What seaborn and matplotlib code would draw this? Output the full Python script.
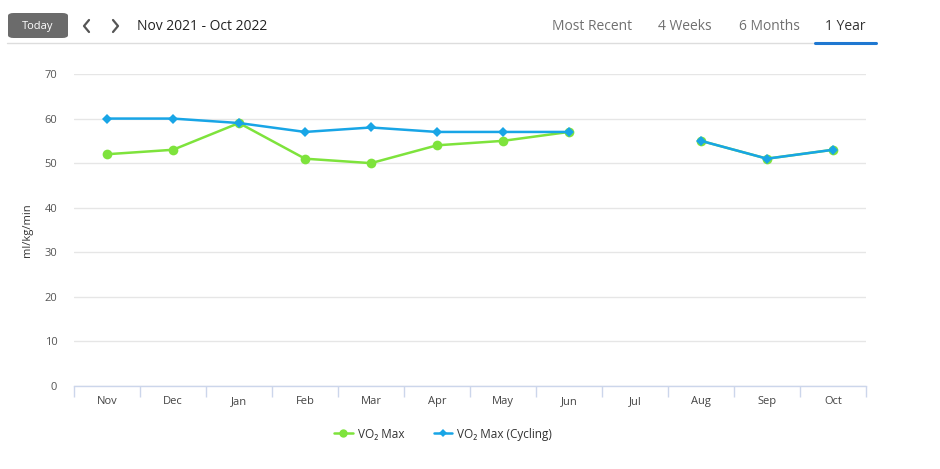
import numpy as np
import pandas as pd
import matplotlib
matplotlib.use("Agg")
import matplotlib.pyplot as plt
from matplotlib.patches import FancyBboxPatch
from matplotlib.lines import Line2D
import seaborn as sns

# data
months = ["Nov", "Dec", "Jan", "Feb", "Mar", "Apr", "May", "Jun", "Jul", "Aug", "Sep", "Oct"]
vo2_max = [52, 53, 59, 51, 50, 54, 55, 57, np.nan, 55, 51, 53]
vo2_cycling = [60, 60, 59, 57, 58, 57, 57, 57, np.nan, 55, 51, 53]
series_names = ["VO\u2082 Max", "VO\u2082 Max (Cycling)"]
y_ticks = [0, 10, 20, 30, 40, 50, 60, 70]
tabs = ["Most Recent", "4 Weeks", "6 Months", "1 Year"]
title = "Nov 2021 - Oct 2022"

GREEN = "#7ee33c"
BLUE = "#18a5e6"

W, H = 940, 469


def fx(px):
    return px / W


def fy(py):
    return 1 - py / H


def to_long(values, name):
    vals = np.asarray(values, dtype=float)
    seg = np.cumsum(np.isnan(vals))
    df = pd.DataFrame({"pos": np.arange(len(vals)), "value": vals,
                       "series": name, "segment": seg})
    return df.dropna()


df = pd.concat([to_long(vo2_max, series_names[0]),
                to_long(vo2_cycling, series_names[1])], ignore_index=True)

sns.set_theme(style="white")
plt.rcParams["font.family"] = ["Open Sans", "DejaVu Sans"]

fig = plt.figure(figsize=(9.4, 4.69), dpi=100)
ax = fig.add_axes([fx(74), fy(386), fx(866) - fx(74), fy(74) - fy(386)])

sns.lineplot(data=df, x="pos", y="value", hue="series", units="segment",
             estimator=None, style="series", markers={series_names[0]: "o", series_names[1]: "D"},
             dashes=False, palette={series_names[0]: GREEN, series_names[1]: BLUE},
             markersize=7, markeredgewidth=0, linewidth=1.8, ax=ax, legend=False)
# diamonds are smaller than the circles in the original
for line in ax.get_lines():
    if line.get_marker() == "D":
        line.set_markersize(5.5)
        line.set_zorder(3)

ax.set_xlim(-0.5, len(months) - 0.5)
ax.set_ylim(0, 70)
ax.set_yticks(y_ticks)
ax.set_xticks(range(len(months)))
ax.set_xticklabels(months)
ax.set_xticks(np.arange(-0.5, len(months), 1.0), minor=True)
ax.grid(axis="y", color="#e6e6e6", linewidth=1)
ax.set_axisbelow(True)
for side in ["top", "right", "left"]:
    ax.spines[side].set_visible(False)
ax.spines["bottom"].set_color("#ccd6eb")
ax.spines["bottom"].set_linewidth(1)
ax.tick_params(axis="y", length=0, pad=12, labelsize=8, labelcolor="#555555")
ax.tick_params(axis="x", which="major", length=0, pad=7, labelsize=8, labelcolor="#444444")
ax.tick_params(axis="x", which="minor", bottom=True, direction="out",
               length=8, width=1, color="#ccd6eb")
ax.set_xlabel("")
ax.set_ylabel("ml/kg/min", fontsize=8, color="#333333", labelpad=8)

# legend
handles = [Line2D([0], [0], color=GREEN, lw=1.8, marker="o", markersize=6, markeredgewidth=0),
           Line2D([0], [0], color=BLUE, lw=1.8, marker="D", markersize=4.5, markeredgewidth=0)]
fig.legend(handles, series_names, loc="center", bbox_to_anchor=(fx(443), fy(434)),
           ncol=2, frameon=False, fontsize=8.5, handlelength=1.6, columnspacing=2.5,
           handletextpad=0.4, labelcolor="#333333")

# header
btn = FancyBboxPatch((fx(8), fy(38)), fx(68) - fx(8), fy(13) - fy(38),
                     boxstyle="round,pad=0,rounding_size=0.006",
                     transform=fig.transFigure, facecolor="#6b6b6b", edgecolor="none")
fig.add_artist(btn)
fig.text(fx(38), fy(26), "Today", ha="center", va="center", color="white", fontsize=8)
fig.add_artist(Line2D([fx(89), fx(84), fx(89)], [fy(20), fy(26), fy(32)],
                      transform=fig.transFigure, color="#555555", lw=1.6))
fig.add_artist(Line2D([fx(113), fx(118), fx(113)], [fy(20), fy(26), fy(32)],
                      transform=fig.transFigure, color="#555555", lw=1.6))
fig.text(fx(137), fy(26), title, ha="left", va="center", color="#222222", fontsize=10)

tab_x = [592, 685, 769, 845]
for t, x in zip(tabs, tab_x):
    fig.text(fx(x), fy(26), t, ha="center", va="center",
             color="#333333" if t == "1 Year" else "#707070", fontsize=10)
fig.add_artist(Line2D([fx(7), fx(876)], [fy(43), fy(43)],
                      transform=fig.transFigure, color="#dddddd", lw=1))
fig.add_artist(Line2D([fx(815), fx(876)], [fy(43), fy(43)],
                      transform=fig.transFigure, color="#1f78d1", lw=2.2))

fig.savefig("out.png", dpi=100)
